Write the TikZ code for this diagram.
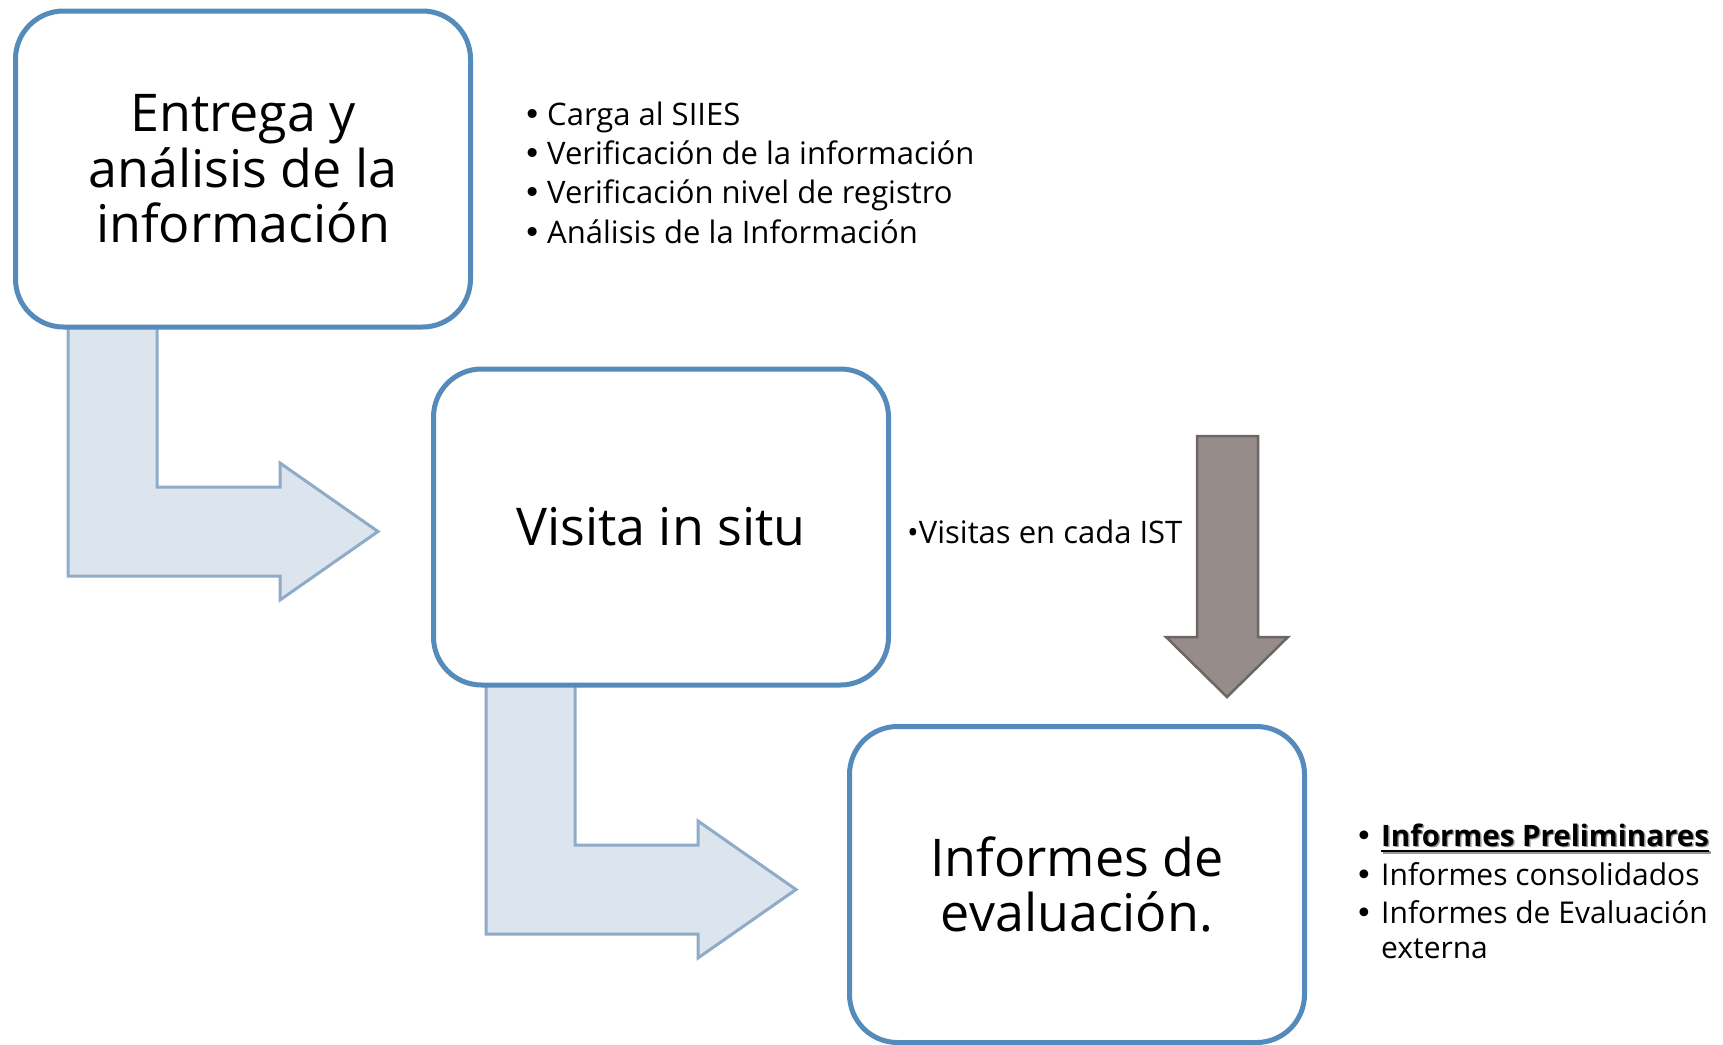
\documentclass[tikz,border=0pt]{standalone}
\usepackage{fontspec}
\setmainfont{Open Sans}
\newfontfamily\bulletfont{DejaVu Sans}
\usetikzlibrary{backgrounds}

\definecolor{stageblue}{RGB}{84,139,186}
\definecolor{bendfill}{RGB}{220,228,238}
\definecolor{benddraw}{RGB}{143,171,199}
\definecolor{downfill}{RGB}{150,140,138}
\definecolor{downdraw}{RGB}{110,102,100}
\definecolor{prelimshadow}{RGB}{150,150,150}

\newsavebox\prelimbox
\newcommand\ulined[1]{\sbox\prelimbox{#1}\rlap{\rule[-6pt]{\wd\prelimbox}{2.5pt}}\usebox\prelimbox}
\newcommand\prelim{\rlap{\hspace{1.5pt}\raisebox{-1.5pt}{\color{prelimshadow}\ulined{\textbf{Informes Preliminares}}}}\ulined{\textbf{Informes Preliminares}}}
\newcommand\itembullet[1]{\makebox[#1][l]{\bulletfont •}}

\tikzset{stagebox/.style = {draw=stageblue, line width=5pt, fill=white,
                            rounded corners=48pt, minimum width=455pt, minimum height=316pt,
                            inner sep=0pt, outer sep=0pt, align=center,
                            font=\fontsize{52}{55.5}\selectfont}}
\tikzset{bendarrow/.style = {draw=benddraw, fill=bendfill, line width=3pt}}
\tikzset{downarrow/.style = {draw=downdraw, fill=downfill, line width=2.5pt}}
\tikzset{notelist/.style = {anchor=base west, inner sep=0pt, align=left,
                            font=\fontsize{31}{39.3}\selectfont}}

\begin{document}
\begin{tikzpicture}[x=1pt, y=-1pt]
    \useasboundingbox (0,0) rectangle (1723,1044);

    \node[stagebox] (ent) at (243,169) {Entrega y\\análisis de la\\información};
    \node[stagebox] (vis) at (661,527) {Visita in situ};
    \node[stagebox] (inf) at (1077,884.5) {Informes de\\evaluación.};

    \begin{scope}[on background layer]
    \foreach \Target [remember=\Target as \Source (initially ent)] in {vis, inf}
        \draw[bendarrow, shift={(\Source.south west)}]
            (52.5,-5) -- (141.5,-5) -- (141.5,160) -- (264.5,160) -- (264.5,136)
            -- (362.5,204.5) -- (264.5,273) -- (264.5,249) -- (52.5,249) -- cycle;
    \end{scope}

    \draw[downarrow] (1197,436) -- (1258,436) -- (1258,637) -- (1288,637)
        -- (1227,697) -- (1166,637) -- (1197,637) -- cycle;

    \node[notelist] (entnotes) at (523,243) {%
        \itembullet{24pt}Carga al SIIES\\
        \itembullet{24pt}Verificación de la información\\
        \itembullet{24pt}Verificación nivel de registro\\
        \itembullet{24pt}Análisis de la Información};
    \node[notelist] (visnotes) at (907,543) {•Visitas en cada IST};
    \node[notelist, font=\fontsize{30}{35}\selectfont] (infnotes) at (1355,958) {%
        \itembullet{26pt}{\fontsize{29.5}{35}\selectfont\prelim}\\[4pt]
        \itembullet{26pt}Informes consolidados\\[3pt]
        \itembullet{26pt}Informes de Evaluación\\
        \hspace*{26pt}externa};
\end{tikzpicture}
\end{document}
